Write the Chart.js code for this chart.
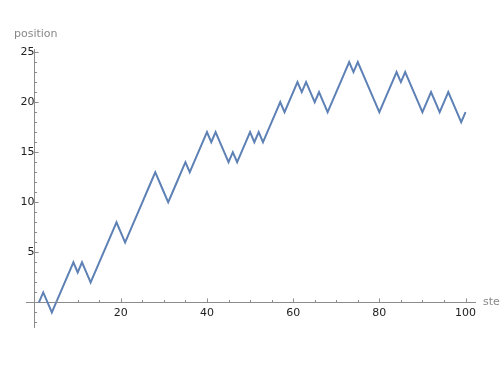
<!DOCTYPE html>
<html><head><meta charset="utf-8">
<script src="https://cdn.jsdelivr.net/npm/chart.js@4/dist/chart.umd.min.js"></script>
<style>html,body{margin:0;padding:0;background:#fff}#wrap{width:500px;height:375px;position:relative}</style>
</head><body><div id="wrap"><canvas id="c" width="500" height="375"></canvas></div>
<script>
const steps = [1,2,3,4,5,6,7,8,9,10,11,12,13,14,15,16,17,18,19,20,21,22,23,24,25,26,27,28,29,30,31,32,33,34,35,36,37,38,39,40,41,42,43,44,45,46,47,48,49,50,51,52,53,54,55,56,57,58,59,60,61,62,63,64,65,66,67,68,69,70,71,72,73,74,75,76,77,78,79,80,81,82,83,84,85,86,87,88,89,90,91,92,93,94,95,96,97,98,99,100];
const positions = [0,1,0,-1,0,1,2,3,4,3,4,3,2,3,4,5,6,7,8,7,6,7,8,9,10,11,12,13,12,11,10,11,12,13,14,13,14,15,16,17,16,17,16,15,14,15,14,15,16,17,16,17,16,17,18,19,20,19,20,21,22,21,22,21,20,21,20,19,20,21,22,23,24,23,24,23,22,21,20,19,20,21,22,23,22,23,22,21,20,19,20,21,20,19,20,21,20,19,18,19];
const xTickLabels = [20,40,60,80,100];
const yTickLabels = [5,10,15,20,25];
const xMinorTicks = [5,10,15,25,30,35,45,50,55,65,70,75,85,90,95];
const yMinorTicks = [-2,-1,1,2,3,4,6,7,8,9,11,12,13,14,16,17,18,19,21,22,23,24];
const xAxisLabel = 'step';
const yAxisLabel = 'position';

const axisColor = '#8c8c8c';
const tickPlugin = {
  id: 'mmaTicks',
  afterDraw(chart) {
    const ctx = chart.ctx, xs = chart.scales.x, ys = chart.scales.y;
    const x0 = xs.getPixelForValue(0), y0 = ys.getPixelForValue(0);
    ctx.save();
    ctx.strokeStyle = axisColor;
    ctx.lineWidth = 1;
    ctx.beginPath();
    xTickLabels.forEach(v => { const p = Math.round(xs.getPixelForValue(v)) + 0.5; ctx.moveTo(p, y0); ctx.lineTo(p, y0 - 4); });
    xMinorTicks.forEach(v => { const p = Math.round(xs.getPixelForValue(v)) + 0.5; ctx.moveTo(p, y0); ctx.lineTo(p, y0 - 2.5); });
    yTickLabels.forEach(v => { const p = Math.round(ys.getPixelForValue(v)) + 0.5; ctx.moveTo(x0, p); ctx.lineTo(x0 + 4, p); });
    yMinorTicks.forEach(v => { const p = Math.round(ys.getPixelForValue(v)) + 0.5; ctx.moveTo(x0, p); ctx.lineTo(x0 + 2.5, p); });
    ctx.stroke();
    ctx.fillStyle = '#888';
    ctx.font = '11px "DejaVu Sans", sans-serif';
    ctx.textBaseline = 'middle';
    ctx.textAlign = 'left';
    ctx.fillText(yAxisLabel, 14, 34);
    ctx.fillText(xAxisLabel, xs.right + 8, y0);
    ctx.restore();
  }
};

new Chart(document.getElementById('c'), {
  type: 'line',
  data: {
    datasets: [{
      data: steps.map((s, i) => ({x: s, y: positions[i]})),
      borderColor: '#5e81b5',
      borderWidth: 2,
      pointRadius: 0,
      tension: 0,
      fill: false
    }]
  },
  options: {
    responsive: false,
    animation: false,
    events: [],
    layout: { padding: { left: 26, right: 25, top: 49, bottom: 48 } },
    plugins: { legend: { display: false }, tooltip: { enabled: false } },
    scales: {
      x: {
        type: 'linear', min: -2, max: 102.2,
        position: { y: 0 },
        afterBuildTicks: s => { s.ticks = xTickLabels.map(v => ({ value: v })); },
        grid: { display: true, drawOnChartArea: false, drawTicks: false },
        border: { display: true, color: axisColor, width: 1 },
        ticks: { color: '#222', font: { family: 'DejaVu Sans', size: 11 }, padding: 4, maxRotation: 0 }
      },
      y: {
        type: 'linear', min: -2.45, max: 25.3,
        position: { x: 0 },
        afterBuildTicks: s => { s.ticks = yTickLabels.map(v => ({ value: v })); },
        grid: { display: true, drawOnChartArea: false, drawTicks: false },
        border: { display: true, color: axisColor, width: 1 },
        ticks: { color: '#222', font: { family: 'DejaVu Sans', size: 11 }, padding: 4 }
      }
    }
  },
  plugins: [tickPlugin]
});
</script>
</body></html>
